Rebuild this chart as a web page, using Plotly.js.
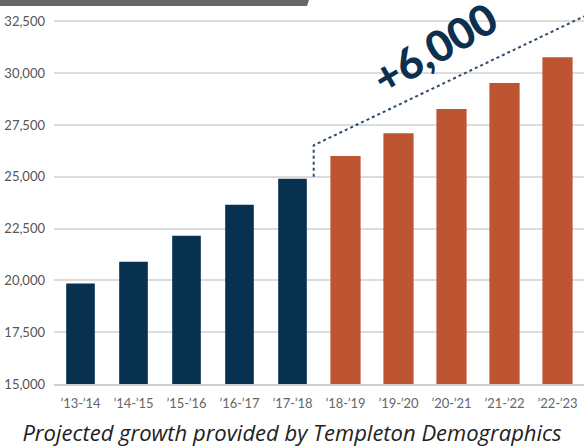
<!DOCTYPE html>
<html>
<head>
<meta charset="utf-8">
<script src="https://cdn.plot.ly/plotly-3.0.1.min.js"></script>
<style>html,body{margin:0;padding:0;background:#fff;}#chart{width:584px;height:446px;}</style>
</head>
<body>
<div id="chart"></div>
<script>
const categories = ["’13-’14","’14-’15","’15-’16","’16-’17","’17-’18","’18-’19","’19-’20","’20-’21","’21-’22","’22-’23"];
const actualValues = [19850, 20900, 22150, 23650, 24900, null, null, null, null, null];
const projectedValues = [null, null, null, null, null, 26000, 27100, 28270, 29530, 30770];
const yTickVals = [15000, 17500, 20000, 22500, 25000, 27500, 30000, 32500];
const yTickText = ["15,000","17,500","20,000","22,500","25,000","27,500","30,000","32,500"];
const growthLabel = "+6,000";
const captionText = "Projected growth provided by Templeton Demographics";
// dashed guide: start just after last actual year at its value, rising to the right edge
const guideX = [4.4, 4.4, 9.5];
const guideY = [25000, 26520, 32740];

const navy = "#08304f", orange = "#bd5532";

const traces = [
  {type:"bar", x:categories, y:actualValues, marker:{color:navy}, width:0.54, hoverinfo:"skip"},
  {type:"bar", x:categories, y:projectedValues, marker:{color:orange}, width:0.57, hoverinfo:"skip"}
];

const W = 584, H = 446, L = 54, R = 0, T = 11, B = 62;
const pw = W - L - R, ph = H - T - B;
const px2paperX = p => (p - L) / pw;
const px2paperY = p => 1 - (p - T) / ph;

const layout = {
  width: W, height: H,
  margin: {l: L, r: R, t: T, b: B, pad: 0},
  paper_bgcolor: "#fff", plot_bgcolor: "#fff",
  showlegend: false,
  barmode: "overlay",
  font: {family: "Lato, 'Open Sans', sans-serif", color: "#555"},
  title: {
    text: captionText,
    font: {family: "'Open Sans', Lato, sans-serif", size: 22, color: "#222", style: "italic"},
    x: 0.5, xref: "container", xanchor: "center",
    y: 1 - 433/446, yref: "container", yanchor: "middle"
  },
  xaxis: {
    type: "category", range: [-0.5, 9.5],
    showgrid: false, zeroline: false,
    showline: true, linecolor: "#d0d0d0", linewidth: 2,
    ticks: "", tickfont: {size: 13, color: "#666"},
    ticklabelstandoff: 6, fixedrange: true
  },
  yaxis: {
    range: [15000, 33000],
    tickvals: yTickVals, ticktext: yTickText,
    showgrid: true, gridcolor: "#dcdcdc", gridwidth: 2,
    zeroline: false, showline: false,
    ticks: "", tickfont: {size: 13, color: "#555"},
    ticklabelstandoff: 8, fixedrange: true
  },
  shapes: [
    {type: "path", xref: "paper", yref: "paper",
     path: `M ${px2paperX(0)} ${px2paperY(0)} L ${px2paperX(309)} ${px2paperY(0)} L ${px2paperX(307)} ${px2paperY(6)} L ${px2paperX(0)} ${px2paperY(6)} Z`,
     fillcolor: "#666", line: {width: 0}, layer: "above"}
  ],
  annotations: [
    {text: growthLabel, xref: "x", yref: "y",
     x: 6.68, y: 31250, showarrow: false, textangle: -30,
     font: {family: "Lato, 'Open Sans', sans-serif", size: 43, weight: 900, color: "#0d3050"}}
  ]
};

traces.push({type: "scatter", mode: "lines", x: guideX, y: guideY, xaxis: "x2", yaxis: "y",
  line: {color: "#2d4c6e", width: 2, dash: "3px,3px"}, hoverinfo: "skip"});
layout.xaxis2 = {overlaying: "x", range: [-0.5, 9.5], visible: false, fixedrange: true};

Plotly.newPlot("chart", traces, layout, {displayModeBar: false, staticPlot: true});
</script>
</body>
</html>
